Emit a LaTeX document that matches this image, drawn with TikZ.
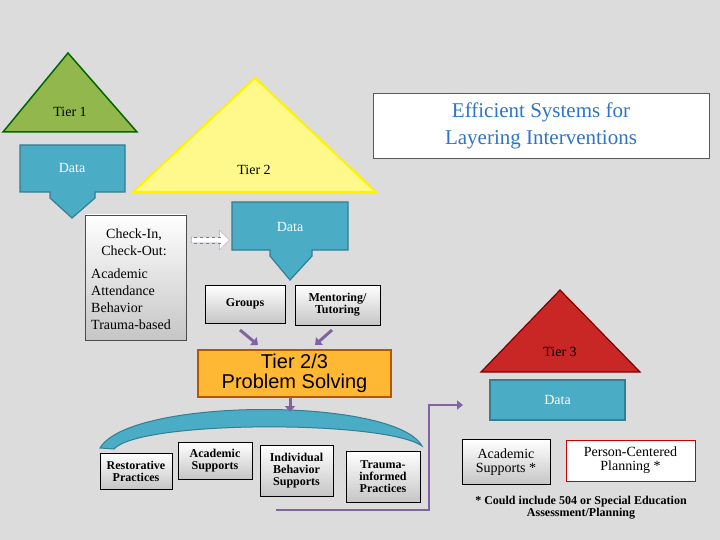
\documentclass[tikz,border=0pt]{standalone}
\usepackage{fontspec}
\setmainfont{Liberation Serif}
\newfontfamily\arialf{Liberation Sans}
\usetikzlibrary{arrows.meta,shapes.arrows}
\definecolor{bg}{HTML}{DCDCDC}
\definecolor{dblue}{HTML}{4BACC6}
\definecolor{dbluel}{HTML}{357D91}
\definecolor{ttl}{HTML}{2E75C7}
\definecolor{purp}{HTML}{8064A2}
\newcommand{\fs}[1]{\fontsize{#1}{#1}\selectfont}
\begin{document}
\begin{tikzpicture}[x=1pt,y=-1pt,font=\fs{14},
 gbox/.style={draw=black,top color=white,bottom color=gray!45,inner sep=2pt,align=center,font=\bfseries\fs{12}},
 datab/.style={fill=dblue,draw=dbluel,line width=1.2pt},
 pa/.style={purp,line width=3pt,-{Triangle[length=6pt,width=10pt]}}]
\useasboundingbox (0,0) rectangle (720,540);
\fill[bg] (0,0) rectangle (720,540);
% data arrow 1
\draw[datab] (20,145)--(125,145)--(125,192)--(95,192)--(95,198)--(72,218)--(50,198)--(50,192)--(20,192)--cycle;
\node[white] (d1) at (72,168) {Data};
% tier1
\draw[fill=olive!55!green!70,draw=green!40!black,line width=1.5pt] (68,53)--(137,132)--(3,132)--cycle;
\node (t1) at (70,112) {Tier 1};
% tier2
\draw[fill=yellow!45,draw=yellow,line width=2pt] (255,78)--(376,192)--(133,192)--cycle;
\node (t2) at (254,170) {Tier 2};
% title
\node[draw=gray!70!black,fill=white,minimum width=336pt,minimum height=65pt,align=center,text=ttl,font=\fs{21}\linespread{1.3}\selectfont,inner sep=2pt] (title) at (541,126) {Efficient Systems for\\Layering Interventions};
% check-in
\node[gbox,minimum width=101pt,minimum height=125pt,draw=gray!60!black] (ci) at (135.5,277.5) {};
\node[align=center,font=\fs{14}\linespread{1.2}\selectfont] (cit) at (134,242) {Check-In,\\Check-Out:};
\node[align=left,font=\fs{14}\linespread{1.2}\selectfont,anchor=north west,inner sep=0pt] (cil) at (91,269) {Academic\\Attendance\\Behavior\\Trauma-based};
% hollow dashed arrow
\node[single arrow,draw=purp!60,fill=white,minimum height=38pt,minimum width=20pt,single arrow head extend=3pt,inner sep=1pt] (ha) at (209,240) {};
\draw[dashed,gray] (194,237)--(222,237) (194,243)--(222,243);
% data arrow 2
\draw[datab] (232,202)--(348,202)--(348,250)--(312,250)--(312,256)--(290,280)--(270,256)--(270,250)--(232,250)--cycle;
\node[white] (d2) at (290,227) {Data};
\node[gbox,minimum width=80pt,minimum height=38pt] (grp) at (245,304) {Groups};
\node[gbox,minimum width=85pt,minimum height=40pt] (men) at (337.5,305) {Mentoring/\\Tutoring};
\coordinate (a1) at (258,345); \coordinate (a2) at (315,345);
\draw[pa] (240,330)--(a1);
\draw[pa] (332,330)--(a2);
% arc band
\draw[fill=dblue,draw=dbluel,line width=1pt] (100,448) .. controls (130,397) and (395,397) .. (422,446) .. controls (385,420) and (140,420) .. (114,449) -- cycle;
% tier 2/3
\node[fill=orange!70!yellow!80,draw=orange!70!black,line width=1.5pt,minimum width=193pt,minimum height=47pt,align=center,font=\arialf\fs{20},inner sep=1pt] (ps) at (294.5,373.5) {Tier 2/3\\Problem Solving};
\coordinate (a0) at (290,397); \coordinate (a3) at (290,412);
\draw[pa] (a0)--(a3);
\node[gbox,minimum width=72pt,minimum height=36pt] (rp) at (136,471) {Restorative\\Practices};
\node[gbox,minimum width=74pt,minimum height=37pt] (as) at (215,460.5) {Academic\\Supports};
\node[gbox,minimum width=73pt,minimum height=51pt] (ib) at (296.5,470.5) {Individual\\Behavior\\Supports};
\node[gbox,minimum width=74pt,minimum height=51pt] (tr) at (383,476.5) {Trauma-\\informed\\Practices};
\coordinate (l0) at (276,510); \coordinate (l1) at (463,405);
\draw[purp,line width=2pt,-{Triangle[length=6pt,width=9pt]}] (l0)-|(429,405)--(l1);
% tier3
\draw[fill=red!75!black!85,draw=red!50!black,line width=1.2pt] (560,290)--(640,372)--(481,372)--cycle;
\node (t3) at (560,352) {Tier 3};
\node[datab,minimum width=135pt,minimum height=40pt,text=white] (d3) at (557.5,400) {Data};
\node[gbox,minimum width=88pt,minimum height=45pt,font=\fs{14}] (as3) at (506,462) {Academic\\Supports *};
\node[draw=red!80!black,fill=white,minimum width=129pt,minimum height=41pt,align=center,font=\fs{14},inner sep=1pt] (pc) at (630.5,460.5) {Person-Centered\\Planning *};
\node[align=center,font=\bfseries\fs{12}] (fn) at (581,508) {* Could include 504 or Special Education\\Assessment/Planning};
\end{tikzpicture}
\end{document}
